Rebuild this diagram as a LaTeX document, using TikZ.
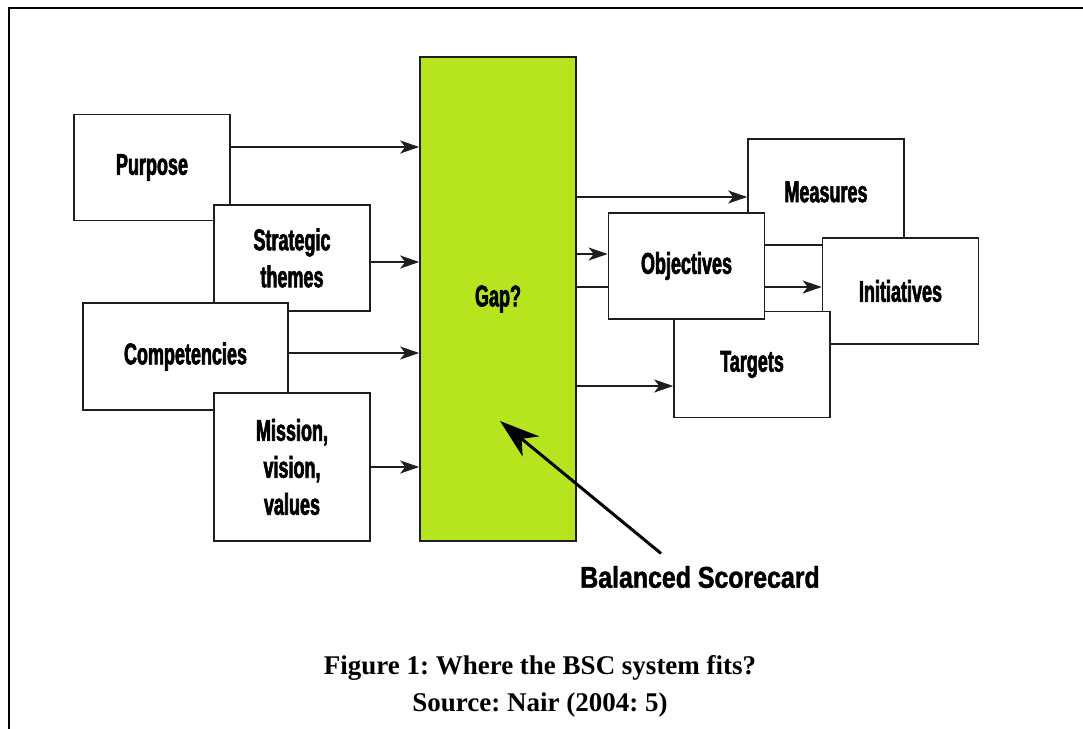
\documentclass[tikz,border=0pt]{standalone}
\usepackage{fontspec}
\setmainfont{Liberation Serif}
\newfontfamily\boxfont[FakeStretch=0.6,FakeBold=2]{Liberation Sans}
\newfontfamily\tagfont[FakeStretch=0.83,FakeBold=1.5]{Liberation Sans}
\usetikzlibrary{arrows.meta}
\definecolor{lime}{RGB}{182,228,30}
\definecolor{ink}{RGB}{30,30,30}
\tikzset{
  card/.style={draw=ink,line width=1.6pt,fill=white,minimum width=156pt,minimum height=106pt,inner sep=0pt,align=center,font=\boxfont\bfseries\fontsize{30}{37}\selectfont},
  gapbar/.style={card,fill=lime,minimum height=484pt},
  arr/.style={-{Stealth[length=19pt,width=13pt,inset=5pt]},draw=ink,line width=1.4pt},
  bigarr/.style={-{Stealth[length=40pt,width=26pt,inset=12pt]},draw=black,line width=3pt},
  frame/.style={draw=black,line width=2.5pt}
}

\begin{document}
\frenchspacing
\begin{tikzpicture}[x=1pt,y=-1pt]
  \useasboundingbox (0,0) rectangle (1083,728);
  \draw[frame] (9,730) -- (9,8) -- (1085,8);

  % inputs on the left
  \node[card] (pur) at (152,167.5) {Purpose};
  \node[card] (str) at (292,258) {Strategic\\themes};
  \node[card,minimum width=205pt,minimum height=107pt] (com) at (185.5,356.5) {Competencies};
  \node[card,minimum height=148pt] (mis) at (292,467) {Mission,\\vision,\\values};
  \node[gapbar] (gap) at (498,299) {Gap?};

  \coordinate (p1) at ([yshift=20.5pt]pur.east);
  \coordinate (p2) at ([yshift=-4pt]str.east);
  \coordinate (p3) at ([yshift=3.5pt]com.east);
  \coordinate (p4) at (mis.east);
  \foreach \p in {p1,p2,p3,p4}
    \draw[arr] (\p) -- (\p -| gap.west);

  % outputs on the right
  \node[card] (mea) at (826,192) {Measures};
  \node[card] (ini) at (900.5,291) {Initiatives};
  \node[card] (tar) at (752,364.5) {Targets};
  \coordinate (q1) at ([yshift=-5pt]mea.west);
  \coordinate (q3) at ([yshift=4pt]ini.west);
  \coordinate (q4) at ([yshift=-21.5pt]tar.west);
  \foreach \q in {q1,q3,q4}
    \draw[arr] (\q -| gap.east) -- (\q);
  \node[card] (obj) at (686.5,266) {Objectives};
  \coordinate (q2) at ([yshift=12pt]obj.west);
  \draw[arr] (q2 -| gap.east) -- (q2);

  % pointer to the gap
  \node[font=\tagfont\bfseries\fontsize{30}{36}\selectfont] (bsc) at (700,577) {Balanced Scorecard};
  \coordinate (tip) at (500,421);
  \draw[bigarr] ([xshift=-39pt,yshift=9pt]bsc.north) -- (tip);

  \node[font=\bfseries\fontsize{27}{37}\selectfont,align=center] (cap) at (540,686)
    {Figure 1: Where the BSC system fits?\\Source: Nair (2004: 5)};
\end{tikzpicture}
\end{document}
